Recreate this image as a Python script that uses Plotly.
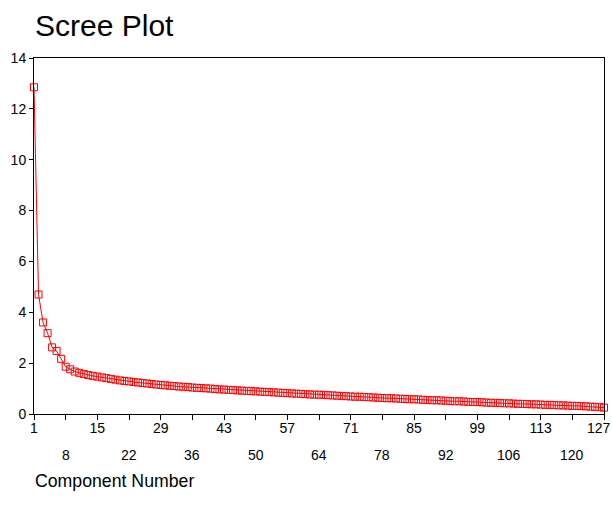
import plotly.graph_objects as go

components = list(range(1, 128))
eigenvalues = [
    12.85, 4.70, 3.60, 3.18, 2.62, 2.48, 2.17, 1.86, 1.76, 1.67, 1.62, 1.57, 1.53, 1.50,
    1.47, 1.44, 1.41, 1.38, 1.35, 1.32, 1.30, 1.28, 1.26, 1.24, 1.22, 1.20, 1.18, 1.16,
    1.14, 1.13, 1.11, 1.10, 1.08, 1.07, 1.06, 1.04, 1.03, 1.02, 1.01, 1.00, 0.98, 0.97,
    0.96, 0.95, 0.94, 0.93, 0.92, 0.91, 0.90, 0.89, 0.88, 0.87, 0.86, 0.85, 0.84, 0.83,
    0.82, 0.81, 0.80, 0.79, 0.78, 0.77, 0.76, 0.76, 0.75, 0.74, 0.73, 0.72, 0.71, 0.70,
    0.69, 0.68, 0.68, 0.67, 0.66, 0.65, 0.64, 0.63, 0.62, 0.62, 0.61, 0.60, 0.59, 0.58,
    0.58, 0.57, 0.56, 0.55, 0.54, 0.54, 0.53, 0.52, 0.51, 0.50, 0.50, 0.49, 0.48, 0.47,
    0.47, 0.46, 0.45, 0.44, 0.44, 0.43, 0.42, 0.42, 0.41, 0.40, 0.40, 0.39, 0.38, 0.38,
    0.37, 0.36, 0.36, 0.35, 0.34, 0.34, 0.33, 0.32, 0.32, 0.31, 0.30, 0.29, 0.28, 0.27,
    0.25,
]
x_ticks = list(range(1, 128, 7))
x_row1 = x_ticks[0::2]
x_row2 = x_ticks[1::2]
y_ticks = [0, 2, 4, 6, 8, 10, 12, 14]

FONT = "Liberation Sans, Arial, sans-serif"

W, H = 612, 520

fig = go.Figure()
fig.add_trace(go.Scatter(
    x=components, y=eigenvalues, mode="lines+markers",
    line=dict(color="#ff0000", width=1),
    marker=dict(symbol="square-open", size=7, color="#ff0000", line=dict(width=1, color="#ff0000")),
    cliponaxis=False, showlegend=False, hoverinfo="skip",
))

for v in x_row2:
    fig.add_annotation(x=v, xref="x", y=0, yref="paper", yshift=-41, text=str(v),
                       showarrow=False, yanchor="middle", xanchor="center",
                       font=dict(family=FONT, size=14, color="black"))

# last first-row label nudged inward so it stays inside the page
last = x_row1[-1]
fig.add_annotation(x=last, xref="x", y=0, yref="paper", yshift=-14, xshift=-5, text=str(last),
                   showarrow=False, yanchor="middle", xanchor="center",
                   font=dict(family=FONT, size=14, color="black"))

fig.add_annotation(x=0, xref="paper", xanchor="left", xshift=-1, y=0, yref="paper", yshift=-67,
                   yanchor="middle", text="Component Number", showarrow=False,
                   font=dict(family=FONT, size=17.7, color="black"))

fig.update_layout(
    width=W, height=H,
    margin=dict(l=34, r=8, t=58, b=106, pad=0, autoexpand=False),
    paper_bgcolor="white", plot_bgcolor="white",
    font=dict(family=FONT, size=14, color="black"),
    title=dict(text="Scree Plot", x=35 / W, xref="container", xanchor="left",
               y=1 - 25 / H, yref="container", yanchor="middle",
               font=dict(family=FONT, size=30, color="black")),
    xaxis=dict(range=[1, 127], tickmode="array", tickvals=x_ticks,
               ticktext=[str(v) if (v in x_row1 and v != last) else "" for v in x_ticks],
               ticks="outside", ticklen=5, tickcolor="black", showgrid=False, zeroline=False,
               showline=True, linecolor="black", linewidth=1, mirror=True,
               ticklabelstandoff=-4, ticklabeloverflow="allow", automargin=False,
               tickfont=dict(family=FONT, size=14, color="black")),
    yaxis=dict(range=[0, 14], tickmode="array", tickvals=y_ticks,
               ticks="outside", ticklen=4, tickcolor="black", showgrid=False, zeroline=False,
               showline=True, linecolor="black", linewidth=1, mirror=True, automargin=False,
               tickfont=dict(family=FONT, size=14, color="black")),
)

fig.write_html("out.html", config={"displayModeBar": False},
               post_script="document.body.style.margin='0';document.body.style.overflow='hidden';")
